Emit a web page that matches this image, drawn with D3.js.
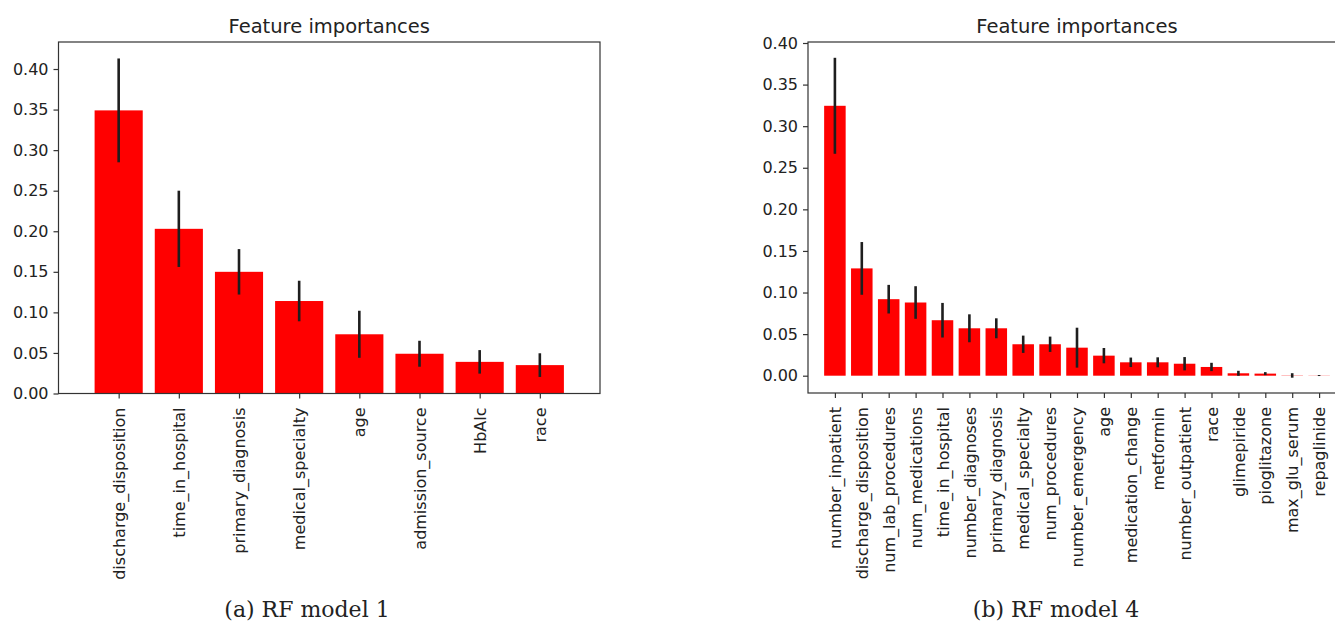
<!DOCTYPE html>
<html>
<head>
<meta charset="utf-8">
<script src="https://cdn.jsdelivr.net/npm/d3@7"></script>
<style>
  body { margin: 0; background: #fff; }
  svg text { font-family: "DejaVu Sans", sans-serif; fill: #222; }
</style>
</head>
<body>
<div id="div_chart"></div>
<script>

// data for RF model 1
var features_1 = ["discharge_disposition", "time_in_hospital", "primary_diagnosis",
  "medical_specialty", "age", "admission_source", "HbAlc", "race"];
var importance_1 = [0.349, 0.203, 0.150, 0.114, 0.073, 0.049, 0.039, 0.035];
var std_1 = [0.064, 0.047, 0.028, 0.025, 0.029, 0.016, 0.0145, 0.0146];

// data for RF model 4
var features_4 = ["number_inpatient", "discharge_disposition", "num_lab_procedures",
  "num_medications", "time_in_hospital", "number_diagnoses", "primary_diagnosis",
  "medical_specialty", "num_procedures", "number_emergency", "age", "medication_change",
  "metformin", "number_outpatient", "race", "glimepiride", "pioglitazone",
  "max_glu_serum", "repaglinide"];
var importance_4 = [0.3245, 0.129, 0.092, 0.088, 0.0667, 0.057, 0.057, 0.0378, 0.0378,
  0.0337, 0.0241, 0.0161, 0.0161, 0.0144, 0.0105, 0.0029, 0.0025, 0.0003, 0.0002];
var std_4 = [0.0577, 0.0317, 0.0172, 0.0196, 0.0208, 0.0168, 0.012, 0.0104, 0.0092,
  0.024, 0.0092, 0.0057, 0.006, 0.008, 0.005, 0.003, 0.0018, 0.0027, 0.0006];

var ticks_y = [0, 0.05, 0.10, 0.15, 0.20, 0.25, 0.30, 0.35, 0.40];

var svg = d3.select("#div_chart")
  .append("svg")
    .attr("width", 1335)
    .attr("height", 624);

// draws one "Feature importances" panel
function drawPanel(box, names, values, errs, yDomain, caption) {
  var n = names.length;
  var g = svg.append("g");

  var x = d3.scaleLinear()
    .domain([-1, n])
    .range([box.left, box.right]);
  var y = d3.scaleLinear()
    .domain(yDomain)
    .range([box.bottom, box.top]);
  var bw = x(0.4) - x(0);

  // bars
  g.selectAll(".bar")
    .data(values)
    .enter()
    .append("rect")
      .attr("x", function(d, i) { return x(i) - bw })
      .attr("y", function(d) { return y(d) })
      .attr("width", bw * 2)
      .attr("height", function(d) { return y(0) - y(d) })
      .style("fill", "#ff0000");

  // error bars
  g.selectAll(".err")
    .data(values)
    .enter()
    .append("line")
      .attr("x1", function(d, i) { return x(i) })
      .attr("x2", function(d, i) { return x(i) })
      .attr("y1", function(d, i) { return y(d + errs[i]) })
      .attr("y2", function(d, i) { return y(d - errs[i]) })
      .style("stroke", "#1e1e1e")
      .style("stroke-width", 2.6);

  // y axis
  var ya = g.append("g")
    .attr("transform", "translate(" + box.left + ",0)")
    .call(d3.axisLeft(y).tickValues(ticks_y).tickFormat(d3.format(".2f"))
      .tickSize(5).tickPadding(5));
  ya.select(".domain").remove();
  ya.selectAll("text").style("font-size", "16px").style("font-family", "DejaVu Sans");
  ya.selectAll("line").style("stroke", "#333").style("stroke-width", 1.2);

  // x axis with vertical labels
  var xa = g.append("g")
    .attr("transform", "translate(0," + box.bottom + ")")
    .call(d3.axisBottom(x).tickValues(d3.range(n)).tickFormat(function(i) { return names[i] })
      .tickSize(5));
  xa.select(".domain").remove();
  xa.selectAll("line").style("stroke", "#333").style("stroke-width", 1.2);
  xa.selectAll("text")
    .attr("y", 0)
    .attr("dy", "0.35em")
    .attr("transform", "translate(0,14) rotate(-90)")
    .attr("text-anchor", "end")
    .style("font-size", "16px")
    .style("font-family", "DejaVu Sans");

  // frame
  g.append("rect")
    .attr("x", box.left)
    .attr("y", box.top)
    .attr("width", box.right - box.left)
    .attr("height", box.bottom - box.top)
    .style("fill", "none")
    .style("stroke", "#333")
    .style("stroke-width", 1.2);

  // title
  g.append("text")
    .attr("x", (box.left + box.right) / 2)
    .attr("y", 33)
    .attr("text-anchor", "middle")
    .style("font-size", "19.5px")
    .text("Feature importances");

  // caption under the panel
  svg.append("text")
    .attr("x", box.cap)
    .attr("y", 617)
    .attr("text-anchor", "middle")
    .style("font-family", "'DejaVu Serif', serif")
    .style("font-size", "22px")
    .text(caption);
}

drawPanel({left: 58.5, right: 600, top: 42, bottom: 393.5, cap: 307},
  features_1, importance_1, std_1, [0, 0.4333], "(a) RF model 1");
drawPanel({left: 808, right: 1346, top: 42, bottom: 393, cap: 1056},
  features_4, importance_4, std_4, [-0.0208, 0.4012], "(b) RF model 4");

</script>
</body>
</html>
